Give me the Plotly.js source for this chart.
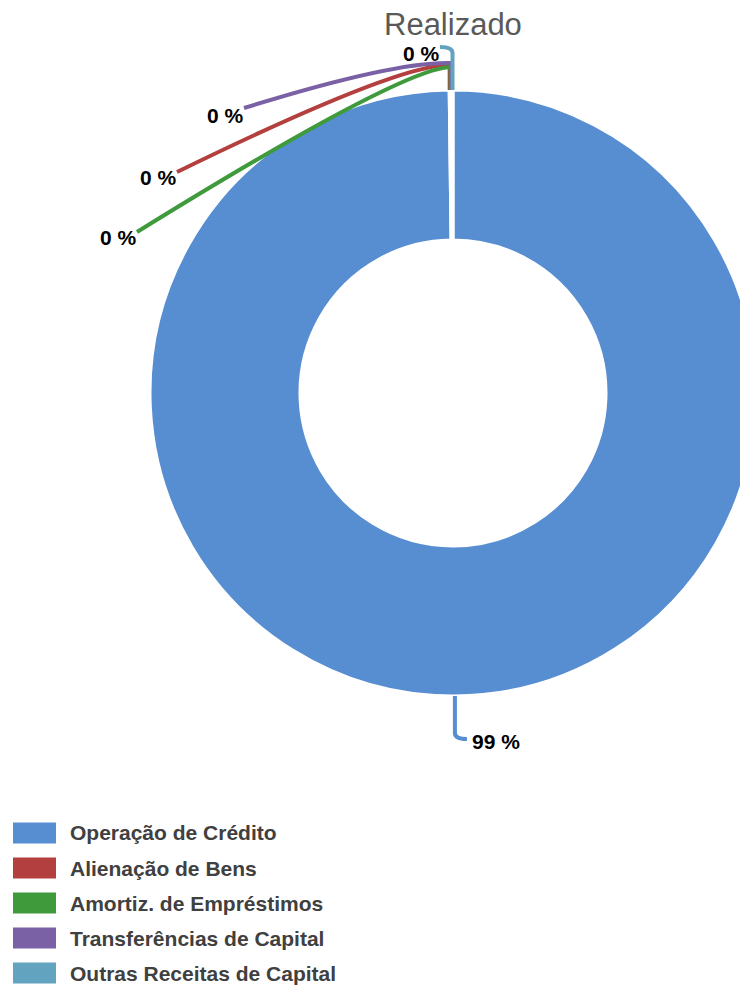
<!DOCTYPE html>
<html><head><meta charset="utf-8">
<script src="https://cdn.plot.ly/plotly-3.0.1.min.js"></script>
<style>html,body{margin:0;padding:0;overflow:hidden;background:#fff}#chart{width:780px;height:985px}</style>
</head><body><div id="chart"></div>
<script>
const categories = ['Operação de Crédito','Alienação de Bens','Amortiz. de Empréstimos','Transferências de Capital','Outras Receitas de Capital'];
const values = [99.8, 0.05, 0.05, 0.05, 0.05];
const colors = ['#578DD1','#B3403F','#3F9A3B','#7A61A5','#62A3BF'];
const chartTitle = 'Realizado';

// layout geometry (pixels)
const W = 780, H = 985, M = {l:150, r:24, t:90, b:289};
const pw = W - M.l - M.r, ph = H - M.t - M.b;
const R = Math.min(pw, ph) / 2, cx = M.l + pw / 2, cy = M.t + ph / 2;
const X = px => (px - M.l) / pw, Y = py => (M.t + ph - py) / ph;
const P = (x, y) => X(x) + ',' + Y(y);

const total = values.reduce((a, b) => a + b, 0);
let acc = 0; const mids = [], pct = [];
values.forEach(v => { mids.push((acc + v / 2) / total * 360); acc += v; pct.push(v / total * 100); });
const edge = deg => [cx + R * Math.sin(deg * Math.PI / 180), cy - R * Math.cos(deg * Math.PI / 180)];

// leader line layout per slice (pixels): elbow y, control, end, label anchor
const leaders = [
  {ey: 733, c: [0, 739], cRel: true, e: [12, 739], eRel: true, lx: 15, lRel: true, ly: 741, anchor: 'left'},
  {ey: 65, c: [398, 64], e: [177, 172], lx: 179, ly: 177, anchor: 'right'},
  {ey: 67, c: [402, 68], e: [137, 232], lx: 139, ly: 237, anchor: 'right'},
  {ey: 63, c: [395, 61], e: [244, 108], lx: 246, ly: 115, anchor: 'right'},
  {ey: 53, c: [0, 47], cRel: true, e: [440, 47], lx: 442, ly: 53, anchor: 'right'}
];

const shapes = [], annotations = [];
values.forEach((v, i) => {
  const [x0, y0] = edge(mids[i]);
  const L = leaders[i];
  const c = L.cRel ? [x0 + L.c[0], L.c[1]] : L.c;
  const e = L.eRel ? [x0 + L.e[0], L.e[1]] : L.e;
  const path = 'M' + P(x0, y0) + ' L' + P(x0, L.ey) + ' Q' + P(c[0], c[1]) + ' ' + P(e[0], e[1]);
  shapes.push({type: 'path', xref: 'paper', yref: 'paper', path: path, line: {color: colors[i], width: 4}});
  const lx = L.lRel ? x0 + L.lx : L.lx;
  annotations.push({xref: 'paper', yref: 'paper', x: X(lx), y: Y(L.ly), xanchor: L.anchor, yanchor: 'middle',
    showarrow: false, text: Math.floor(pct[i]) + ' %',
    font: {family: 'Liberation Sans, Arial, sans-serif', size: 21, color: '#000000', weight: 700}});
});

// legend (custom, to match large swatches)
categories.forEach((name, i) => {
  const rowY = 833 + 35 * i;
  shapes.push({type: 'rect', xref: 'paper', yref: 'paper', x0: X(13), x1: X(56), y0: Y(rowY + 10.5), y1: Y(rowY - 10.5),
    fillcolor: colors[i], line: {width: 0}});
  annotations.push({xref: 'paper', yref: 'paper', x: X(68), y: Y(rowY), xanchor: 'left', yanchor: 'middle', showarrow: false,
    text: name, font: {family: 'Liberation Sans, Arial, sans-serif', size: 21, color: '#404040', weight: 700}});
});

annotations.push({xref: 'paper', yref: 'paper', x: X(cx), y: Y(25), xanchor: 'center', yanchor: 'middle', showarrow: false,
  text: chartTitle, font: {family: 'Liberation Sans, Arial, sans-serif', size: 31, color: '#595959'}});

const trace = {
  type: 'pie', labels: categories, values: values, sort: false, direction: 'clockwise', rotation: 0,
  hole: 0.505, textinfo: 'none', hoverinfo: 'skip', showlegend: false,
  marker: {colors: colors, line: {color: '#ffffff', width: 3}},
  domain: {x: [0, 1], y: [0, 1]}
};

Plotly.newPlot('chart', [trace], {
  width: W, height: H, margin: M, showlegend: false,
  paper_bgcolor: '#ffffff', plot_bgcolor: '#ffffff',
  shapes: shapes, annotations: annotations
}, {displayModeBar: false, staticPlot: true});
</script>
</body></html>
